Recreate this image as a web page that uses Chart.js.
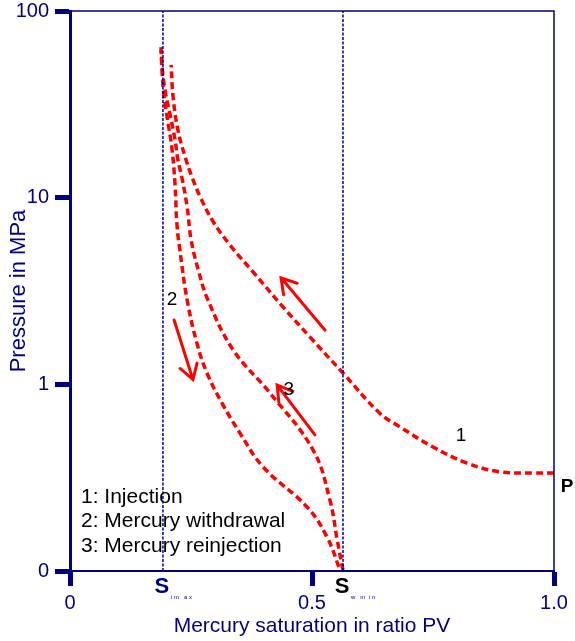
<!DOCTYPE html>
<html>
<head>
<meta charset="utf-8">
<script src="https://cdn.jsdelivr.net/npm/chart.js@4.4.0/dist/chart.umd.min.js"></script>
<style>
html, body { margin: 0; padding: 0; background: #fff; }
</style>
</head>
<body>
<canvas id="chart" width="575" height="641"></canvas>
<script>
// curve 1: injection (from P toward the top)
const injX = [1.0, 0.957, 0.888, 0.820, 0.750, 0.682, 0.640, 0.564, 0.496, 0.440, 0.380, 0.330, 0.295, 0.269, 0.252, 0.238, 0.223, 0.213, 0.209];
const injY = [0.335, 0.335, 0.34, 0.379, 0.462, 0.591, 0.70, 1.15, 1.79, 2.60, 3.95, 5.6, 7.5, 10.1, 12.9, 16.5, 23.0, 34.6, 51.4];

// curve 2: mercury withdrawal
const wdrX = [0.188, 0.190, 0.194, 0.200, 0.211, 0.217, 0.221, 0.227, 0.242, 0.262, 0.283, 0.314, 0.351, 0.399, 0.490, 0.531, 0.558];
const wdrY = [64, 48.3, 35.5, 27.7, 18.0, 11.7, 7.14, 5.25, 2.83, 1.67, 1.15, 0.794, 0.549, 0.361, 0.220, 0.152, 0.101];

// curve 3: mercury reinjection (from the bottom up)
const reiX = [0.564, 0.552, 0.537, 0.502, 0.413, 0.337, 0.285, 0.265, 0.250, 0.242, 0.231, 0.223, 0.217, 0.207, 0.198, 0.192, 0.188];
const reiY = [0.101, 0.147, 0.240, 0.446, 0.90, 1.53, 2.83, 4.1, 6.0, 8.91, 12.9, 15.9, 20.4, 27.7, 35.5, 45.4, 61.8];

// vertical reference lines
const simaxX = 0.192;
const swminX = 0.564;

const xTicks = [0, 0.5, 1.0];
const yTicks = [0.1, 1, 10, 100];
const yTickLabels = ['0', '1', '10', '100'];

const legendLines = ['1: Injection', '2: Mercury withdrawal', '3: Mercury reinjection'];

const NAVY = '#000080';
const FONT = '"Liberation Sans", Arial, sans-serif';

function toPoints(xs, ys) {
    return xs.map((x, i) => ({ x: x, y: ys[i] }));
}

function curve(xs, ys) {
    return {
        data: toPoints(xs, ys),
        showLine: true,
        borderColor: '#ff0000',
        borderWidth: 3.5,
        borderDash: [7, 4],
        pointRadius: 0,
        tension: 0.4,
        fill: false
    };
}

function vline(x) {
    return {
        data: [{ x: x, y: 0.1 }, { x: x, y: 100 }],
        showLine: true,
        borderColor: NAVY,
        borderWidth: 1.5,
        borderDash: [3, 1.5],
        pointRadius: 0
    };
}

// arrows: [tailX, tailY, headX, headY]
const arrows = [
    [0.527, 1.95, 0.436, 3.72],
    [0.215, 2.21, 0.254, 1.06],
    [0.506, 0.536, 0.428, 0.99]
];

// curve labels: [text, x, y]
const curveLabels = [
    ['2', 0.211, 2.83],
    ['3', 0.452, 0.933],
    ['1', 0.808, 0.53]
];

const overlay = {
    id: 'overlay',
    afterDraw(chart) {
        const ctx = chart.ctx;
        const a = chart.chartArea;
        const xs = chart.scales.x, ys = chart.scales.y;
        ctx.save();

        // top and right frame
        ctx.strokeStyle = NAVY;
        ctx.lineWidth = 1.5;
        ctx.beginPath();
        ctx.moveTo(a.left, a.top);
        ctx.lineTo(a.right, a.top);
        ctx.lineTo(a.right, a.bottom);
        ctx.stroke();

        // arrows
        ctx.strokeStyle = '#ff0000';
        ctx.lineWidth = 3;
        ctx.lineCap = 'round';
        arrows.forEach(([tx, ty, hx, hy]) => {
            const x0 = xs.getPixelForValue(tx), y0 = ys.getPixelForValue(ty);
            const x1 = xs.getPixelForValue(hx), y1 = ys.getPixelForValue(hy);
            const ang = Math.atan2(y1 - y0, x1 - x0);
            ctx.beginPath();
            ctx.moveTo(x0, y0);
            ctx.lineTo(x1, y1);
            ctx.moveTo(x1 - 17 * Math.cos(ang - 0.55), y1 - 17 * Math.sin(ang - 0.55));
            ctx.lineTo(x1, y1);
            ctx.lineTo(x1 - 17 * Math.cos(ang + 0.55), y1 - 17 * Math.sin(ang + 0.55));
            ctx.stroke();
        });

        // curve numbers
        ctx.fillStyle = '#000';
        ctx.font = '19px ' + FONT;
        ctx.textAlign = 'center';
        ctx.textBaseline = 'middle';
        curveLabels.forEach(([t, x, y]) => {
            ctx.fillText(t, xs.getPixelForValue(x), ys.getPixelForValue(y));
        });

        // P at the end of curve 1
        ctx.font = 'bold 19px ' + FONT;
        ctx.fillText('P', a.right + 13, ys.getPixelForValue(0.282));

        // legend text
        ctx.font = '21px ' + FONT;
        ctx.textAlign = 'left';
        legendLines.forEach((t, i) => {
            ctx.fillText(t, a.left + 11, a.bottom - 74 + i * 24.5);
        });

        // S labels under the axis
        const drawS = (xv, color, sub) => {
            const px = xs.getPixelForValue(xv);
            ctx.fillStyle = color;
            ctx.font = 'bold 22px ' + FONT;
            ctx.textAlign = 'center';
            ctx.fillText('S', px - 1, a.bottom + 16);
            ctx.fillStyle = NAVY;
            ctx.font = '6px ' + FONT;
            ctx.textAlign = 'left';
            ctx.fillText(sub, px + 8, a.bottom + 26);
        };
        drawS(simaxX, NAVY, 'i m   a x');
        drawS(swminX, '#000', 'w   m  i n');

        ctx.restore();
    }
};

new Chart(document.getElementById('chart'), {
    type: 'scatter',
    data: {
        datasets: [
            vline(simaxX),
            vline(swminX),
            curve(injX, injY),
            curve(wdrX, wdrY),
            curve(reiX, reiY)
        ]
    },
    options: {
        responsive: false,
        animation: false,
        layout: { padding: { top: 11, right: 21, left: 0, bottom: 0 } },
        plugins: {
            legend: { display: false },
            tooltip: { enabled: false }
        },
        scales: {
            x: {
                type: 'linear',
                min: 0,
                max: 1,
                afterBuildTicks: s => { s.ticks = xTicks.map(v => ({ value: v })); },
                afterFit: s => { s.height = 70; s.paddingLeft = 0; s.paddingRight = 0; },
                border: { color: NAVY, width: 2 },
                grid: { drawOnChartArea: false, color: NAVY, tickColor: NAVY, tickLength: 15, tickWidth: 5 },
                ticks: {
                    color: NAVY,
                    font: { family: FONT, size: 20 },
                    padding: 5,
                    maxRotation: 0,
                    callback: v => (v === 0 ? '0' : v.toFixed(1))
                },
                title: {
                    display: true,
                    text: 'Mercury saturation in ratio PV',
                    color: NAVY,
                    font: { family: FONT, size: 21 },
                    padding: { top: 0, bottom: 2 }
                }
            },
            y: {
                type: 'logarithmic',
                min: 0.1,
                max: 100,
                afterBuildTicks: s => { s.ticks = yTicks.map(v => ({ value: v })); },
                afterFit: s => { s.width = 70; s.paddingTop = 0; s.paddingBottom = 0; },
                border: { color: NAVY, width: 3 },
                grid: { drawOnChartArea: false, color: NAVY, tickColor: NAVY, tickLength: 15, tickWidth: 5 },
                ticks: {
                    color: NAVY,
                    font: { family: FONT, size: 20 },
                    padding: 6,
                    callback: v => yTickLabels[yTicks.indexOf(v)]
                },
                title: {
                    display: true,
                    text: 'Pressure in MPa',
                    color: NAVY,
                    font: { family: FONT, size: 22 },
                    padding: { top: 6, bottom: 0 }
                }
            }
        }
    },
    plugins: [overlay]
});
</script>
</body>
</html>
